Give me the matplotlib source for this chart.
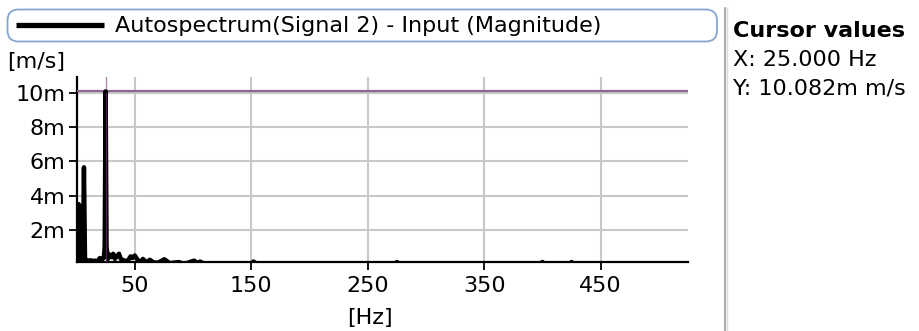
import matplotlib
matplotlib.use("Agg")
import matplotlib.pyplot as plt
from matplotlib.patches import FancyBboxPatch
from matplotlib.lines import Line2D

# ---- data (frequency in Hz, magnitude in milli m/s) ----
freq_hz = [0, 0.3, 0.6, 1.0, 1.4, 1.8, 2.2, 2.6, 3.0, 3.4, 3.8, 4.3, 4.8,
           5.5, 6.4, 7.3, 8.0, 10, 12, 14, 16, 18, 20, 22, 23.5,
           24.2, 25, 25.8, 27, 28.5, 30, 31.5, 33, 35, 36.5, 38, 41, 44,
           46.5, 48, 50, 53, 55, 57, 60, 63, 66, 70, 75.5, 80, 88, 92,
           101, 104, 106, 110, 150, 152, 155, 273, 275, 278, 398, 400, 402,
           423, 425, 427, 525]
magnitude_m = [0.0, 3.5, 0.3, 3.45, 0.3, 3.5, 0.3, 3.4, 0.3, 3.2, 0.3, 1.2, 0.25,
               0.3, 5.65, 0.3, 0.25, 0.2, 0.22, 0.18, 0.2, 0.15, 0.35, 0.25, 0.4,
               1.0, 10.08, 1.0, 0.3, 0.55, 0.4, 0.6, 0.3, 0.5, 0.6, 0.3, 0.2, 0.18,
               0.45, 0.35, 0.5, 0.2, 0.12, 0.3, 0.1, 0.25, 0.1, 0.08, 0.28, 0.05, 0.12, 0.0,
               0.2, 0.05, 0.15, 0.0, 0.0, 0.15, 0.0, 0.0, 0.12, 0.0, 0.0, 0.12, 0.0,
               0.0, 0.12, 0.0, 0.0]

x_ticks = [50, 150, 250, 350, 450]
y_ticks = [2, 4, 6, 8, 10]
y_tick_labels = ["2m", "4m", "6m", "8m", "10m"]

cursor_x = 25.0
cursor_y = 10.082

legend_label = "Autospectrum(Signal 2) - Input (Magnitude)"
y_unit = "[m/s]"
x_unit = "[Hz]"
cursor_title = "Cursor values"
cursor_lines = ["X: 25.000 Hz", "Y: 10.082m m/s"]

FS = 16
plt.rcParams["font.family"] = ["DejaVu Sans"]

W, H = 919, 331
fig = plt.figure(figsize=(W / 100, H / 100), dpi=100)
fig.patch.set_facecolor("white")

XMAX = 525
YMIN, YMAX = 0.12, 10.92
L, R, T, B = 76.5, 688, 77, 262
ax = fig.add_axes([L / W, 1 - B / H, (R - L) / W, (B - T) / H])
ax.set_xlim(0, XMAX)
ax.set_ylim(YMIN, YMAX)

ax.set_xticks(x_ticks)
ax.set_xticklabels([str(v) for v in x_ticks], fontsize=FS)
ax.set_yticks(y_ticks)
ax.set_yticklabels(y_tick_labels, fontsize=FS)
ax.tick_params(axis="both", direction="out", length=6, width=1.3, color="black", pad=2)
ax.tick_params(axis="x", pad=4)

ax.grid(True, color="#c8c8c8", linewidth=1.5, zorder=0)
ax.set_axisbelow(True)
for s in ["top", "right"]:
    ax.spines[s].set_visible(False)
for s in ["left", "bottom"]:
    ax.spines[s].set_linewidth(1.6)
    ax.spines[s].set_color("black")

# cursor
ax.axhline(cursor_y, color="#8e6490", linewidth=1.6, zorder=3)
ax.axvline(cursor_x, color="#b08ab2", linewidth=1.0, zorder=3)

ax.plot(freq_hz, magnitude_m, color="black", linewidth=3.2,
        solid_joinstyle="round", solid_capstyle="round", zorder=4)
ax.axvline(cursor_x, ymax=(10.0 - YMIN) / (YMAX - YMIN), color="#5a1a5e", linewidth=0.8, zorder=5)

ax.set_xlabel(x_unit, fontsize=FS)
ax.xaxis.set_label_coords((370 - L) / (R - L), -(318 - B) / (B - T), transform=ax.transAxes)
ax.xaxis.label.set_va("center")

# y unit
fig.text(7 / W, 1 - 62 / H, y_unit, fontsize=FS, ha="left", va="center")

# legend box
box = FancyBboxPatch((7.5 / W, 1 - 41.5 / H), (717 - 7.5) / W, 32 / H,
                     boxstyle="round,pad=0,rounding_size=0.012",
                     transform=fig.transFigure, facecolor="white",
                     edgecolor="#86a6cf", linewidth=1.3, mutation_aspect=W / H)
fig.patches.append(box)
fig.lines.append(Line2D([16 / W, 104 / W], [1 - 25 / H, 1 - 25 / H], transform=fig.transFigure,
                        color="black", linewidth=3.8, solid_capstyle="butt"))
fig.text(115 / W, 1 - 25.5 / H, legend_label, fontsize=FS, ha="left", va="center")

# separator
fig.lines.append(Line2D([725 / W, 725 / W], [0, 1 - 8 / H], transform=fig.transFigure,
                        color="#9a9a9a", linewidth=1.2))
fig.lines.append(Line2D([726.5 / W, 726.5 / W], [0, 1 - 8 / H], transform=fig.transFigure,
                        color="#d6d6d6", linewidth=1.0))

# cursor values
fig.text(733 / W, 1 - 31 / H, cursor_title, fontsize=FS, fontweight="bold",
         ha="left", va="center")
fig.text(733 / W, 1 - 60 / H, cursor_lines[0], fontsize=FS, ha="left", va="center")
fig.text(733 / W, 1 - 88 / H, cursor_lines[1], fontsize=FS, ha="left", va="center")

fig.savefig("out.png", dpi=100)
